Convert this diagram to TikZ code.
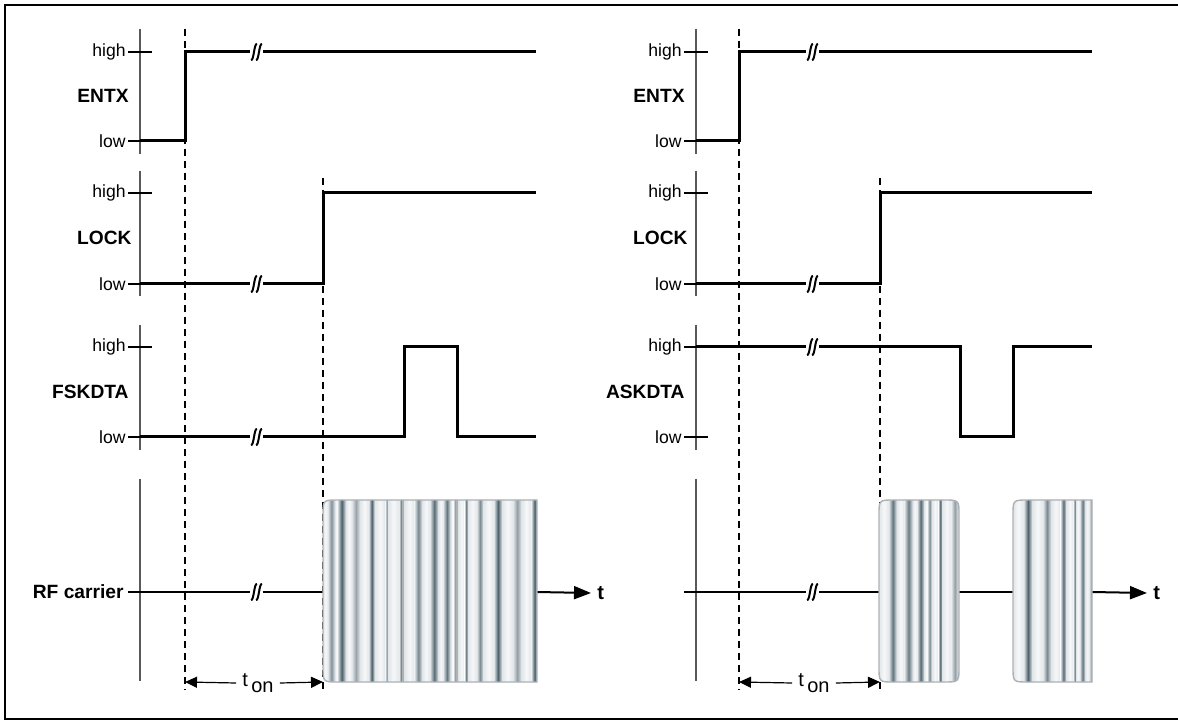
\documentclass[tikz,border=0pt]{standalone}
\usepackage{fontspec}
\setmainfont{Liberation Sans}
\usetikzlibrary{arrows.meta}
\definecolor{cbg}{HTML}{E2E6E9}
\definecolor{clight}{HTML}{F6F7F8}
\definecolor{cdark}{HTML}{4A5F69}
\definecolor{cedge}{HTML}{AEB2B5}
\tikzset{
  axisline/.style={line width=0.75pt, draw=black!65},
  tickline/.style={line width=0.7pt},
  sig/.style={line width=1.5pt, line join=miter},
  rfline/.style={line width=1pt},
  guide/.style={line width=1.1pt, dash pattern=on 3.5pt off 2.5pt},
  guidethin/.style={line width=0.55pt, dash pattern=on 3.5pt off 2.5pt},
  lvl/.style={anchor=east, inner sep=0pt, font=\fontsize{8.8}{10}\selectfont},
  sname/.style={anchor=east, inner sep=0pt, font=\fontsize{9.6}{11}\selectfont\bfseries},
  brkstroke/.style={line width=1pt},
  tarrow/.style={-{Triangle[length=6pt,width=5.5pt]}, line width=0.6pt},
  taxis/.style={-{Triangle[length=8.5pt,width=6.5pt]}, line width=1pt},
  tonlabel/.style={inner xsep=3pt, inner ysep=0pt, font=\fontsize{10}{12}\selectfont},
  tlabel/.style={anchor=west, inner xsep=3pt, inner ysep=0pt, font=\fontsize{10}{12}\selectfont\bfseries}
}
\newcommand\brkmark[2]{%
  \fill[white] (#1-6,#2-3) rectangle (#1+7,#2+3);
  \draw[brkstroke] (#1-5,#2+8) .. controls (#1-2,#2+9) and (#1-2,#2-9) .. (#1+1,#2-8);
  \draw[brkstroke] (#1,#2+8) .. controls (#1+3,#2+9) and (#1+3,#2-9) .. (#1+6,#2-8);
}
% pseudo-random stripes: positions and widths from sines of large angles
\newcommand\carrierblock[4]{%
  \begin{scope}
    \clip #4;
    \fill[cbg] (#1,498) rectangle (#2,684);
    \xdef\cx{#1}
    \foreach \k in {1,...,34}{
      \pgfmathsetmacro\ra{abs(sin(\k*157.3+#3*41.7))}
      \pgfmathsetmacro\rb{abs(sin(\k*211.9+#3*17.1))}
      \pgfmathsetmacro\rc{abs(sin(\k*97.7+#3*63.3))}
      \pgfmathsetmacro\wl{2+\ra*9}
      \shade[left color=cbg,right color=cbg,middle color=clight] (\cx,500) rectangle (\cx+\wl,682);
      \pgfmathsetmacro\xa{\cx+\wl}
      \pgfmathsetmacro\wa{2.5+\rb*6}
      \pgfmathsetmacro\oa{0.45+0.55*\rc}
      \shade[left color=cbg,right color=cbg,middle color=cdark,opacity=\oa] (\xa,500) rectangle (\xa+\wa,682);
      \pgfmathsetmacro\nx{\xa+\wa}
      \xdef\cx{\nx}
    }
  \end{scope}
  \draw[cedge,line width=0.7pt] #4;
}
\begin{document}
\begin{tikzpicture}[x=0.5pt,y=-0.5pt]
\useasboundingbox (0,0) rectangle (1178,721);
\draw[line width=1.4pt] (5,5) rectangle (1182,719);

% ===================== LEFT PANEL =====================
\draw[axisline] (140,29) -- (140,154);
\draw[axisline] (140,171) -- (140,296);
\draw[axisline] (140,325) -- (140,450);
\draw[axisline] (140,479) -- (140,681);
\draw[tickline] (128,52) -- (152,52);
\draw[tickline] (128,141) -- (140,141);
\draw[tickline] (128,193) -- (152,193);
\draw[tickline] (128,284) -- (140,284);
\draw[tickline] (128,347) -- (152,347);
\draw[tickline] (128,437) -- (140,437);
\node[lvl] (lh1) at (126,52) {high};
\node[lvl] (ll1) at (126,141) {low};
\node[sname] (lentx) at (129,96) {ENTX};
\node[lvl] (lh2) at (126,193) {high};
\node[lvl] (ll2) at (126,284) {low};
\node[sname] (llock) at (132,238) {LOCK};
\node[lvl] (lh3) at (126,347) {high};
\node[lvl] (ll3) at (126,437) {low};
\node[sname] (lfsk) at (129,392) {FSKDTA};
\node[sname] (lrf) at (124,592) {RF carrier};
\draw[guide] (185,29) -- (185,690);
\draw[guide] (323,178) -- (323,690);
\draw[sig] (140,141) -- (185,141) -- (185,52) -- (536,52);
\brkmark{256}{52}
\draw[sig] (140,284) -- (323,284) -- (323,193) -- (536,193);
\brkmark{256}{284}
\draw[sig] (140,437) -- (404,437) -- (404,347) -- (457,347) -- (457,437) -- (536,437);
\brkmark{256}{437}
\draw[rfline] (128,592) -- (323,592);
\coordinate (lrfend) at (537,592);
\node[tlabel] (lt) at (591,593) {t};
\draw[taxis] (lrfend) -- (lt.west);
\brkmark{256}{592}
\carrierblock{323}{537}{1}{(537,500) -- (338,500) .. controls (323,500) .. (323,515) -- (323,667) .. controls (323,682) .. (338,682) -- (537,682) -- cycle}
\draw[cedge,line width=0.6pt] (403,500) -- (403,682);
\draw[cedge,line width=0.6pt] (457,500) -- (457,682);
\coordinate (lta) at (185,682);
\coordinate (ltb) at (323,682);
\node[tonlabel] (lton) at (258,683) {t\raisebox{-0.55ex}{\,on}};
\draw[tarrow] (lton.west) -- (lta);
\draw[tarrow] (lton.east) -- (ltb);

% ===================== RIGHT PANEL =====================
\draw[axisline] (696,29) -- (696,154);
\draw[axisline] (696,171) -- (696,296);
\draw[axisline] (696,325) -- (696,450);
\draw[axisline] (696,479) -- (696,681);
\draw[tickline] (684,52) -- (708,52);
\draw[tickline] (684,141) -- (696,141);
\draw[tickline] (684,193) -- (708,193);
\draw[tickline] (684,284) -- (696,284);
\draw[tickline] (684,347) -- (696,347);
\draw[tickline] (684,437) -- (708,437);
\node[lvl] (rh1) at (682,52) {high};
\node[lvl] (rl1) at (682,141) {low};
\node[sname] (rentx) at (685,96) {ENTX};
\node[lvl] (rh2) at (682,193) {high};
\node[lvl] (rl2) at (682,284) {low};
\node[sname] (rlock) at (688,238) {LOCK};
\node[lvl] (rh3) at (682,347) {high};
\node[lvl] (rl3) at (682,437) {low};
\node[sname] (rask) at (685,392) {ASKDTA};
\draw[guidethin] (739,29) -- (739,690);
\draw[guide] (880,178) -- (880,690);
\draw[sig] (696,141) -- (739,141) -- (739,52) -- (1092,52);
\brkmark{812}{52}
\draw[sig] (696,284) -- (880,284) -- (880,193) -- (1092,193);
\brkmark{812}{284}
\draw[sig] (696,347) -- (960,347) -- (960,437) -- (1013,437) -- (1013,347) -- (1092,347);
\brkmark{812}{347}
\draw[rfline] (684,592) -- (879,592);
\draw[rfline] (959,592) -- (1013,592);
\coordinate (rrfend) at (1092,592);
\node[tlabel] (rt) at (1147,593) {t};
\draw[taxis] (rrfend) -- (rt.west);
\brkmark{812}{592}
\carrierblock{879}{959}{2}{(944,500) .. controls (959,500) .. (959,515) -- (959,667) .. controls (959,682) .. (944,682) -- (894,682) .. controls (879,682) .. (879,667) -- (879,515) .. controls (879,500) .. (894,500) -- cycle}
\carrierblock{1013}{1092}{3}{(1092,500) -- (1028,500) .. controls (1013,500) .. (1013,515) -- (1013,667) .. controls (1013,682) .. (1028,682) -- (1092,682) -- cycle}
\coordinate (rta) at (739,682);
\coordinate (rtb) at (880,682);
\node[tonlabel] (rton) at (814,683) {t\raisebox{-0.55ex}{\,on}};
\draw[tarrow] (rton.west) -- (rta);
\draw[tarrow] (rton.east) -- (rtb);
\end{tikzpicture}
\end{document}
